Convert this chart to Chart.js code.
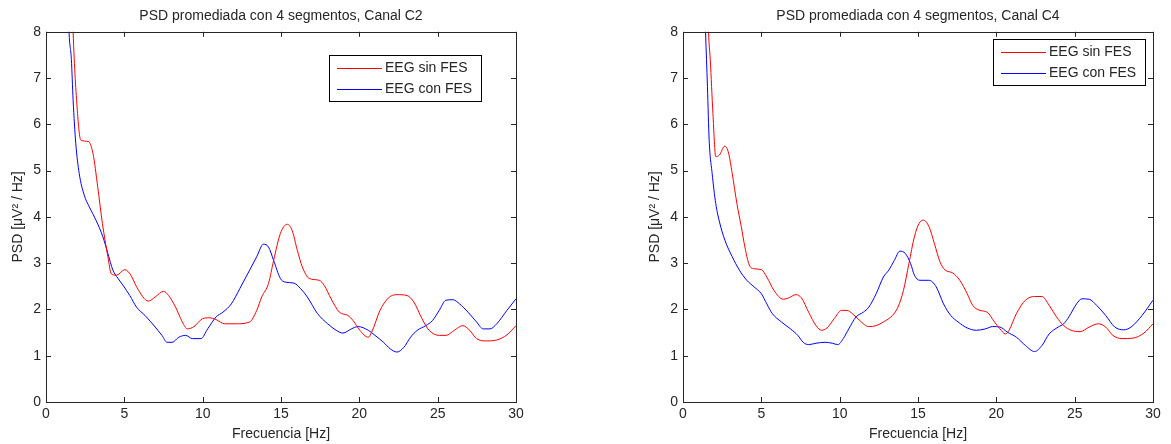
<!DOCTYPE html>
<html>
<head>
<meta charset="utf-8">
<script src="https://cdn.jsdelivr.net/npm/chart.js@4.4.1/dist/chart.umd.min.js"></script>
<style>
  html, body { margin: 0; padding: 0; background: #ffffff; }
  #wrap { position: relative; width: 1171px; height: 444px; overflow: hidden; }
  .box { position: absolute; top: 0; height: 444px; }
  #b1 { left: 0; width: 585px; }
  #b2 { left: 585px; width: 586px; }
</style>
</head>
<body>
<div id="wrap">
  <div class="box" id="b1"><canvas id="c1"></canvas></div>
  <div class="box" id="b2"><canvas id="c2"></canvas></div>
</div>
<script>
// ---- data ----
const xTicks = [0, 5, 10, 15, 20, 25, 30];
const yTicks = [0, 1, 2, 3, 4, 5, 6, 7, 8];
const seriesLabels = ['EEG sin FES', 'EEG con FES'];
const titles = ['PSD promediada con 4 segmentos, Canal C2', 'PSD promediada con 4 segmentos, Canal C4'];

const c2SinFreq = [1.6,1.73,2.0,2.22,2.7,3.0,3.3,3.6,3.95,4.17,4.5,5.03,5.42,5.78,6.54,6.97,7.5,7.83,8.27,8.7,9.02,9.45,9.99,10.42,10.86,11.4,12.15,13.0,13.45,13.77,14.2,14.53,14.96,15.39,15.71,16.04,16.36,16.8,17.44,17.76,18.2,18.73,19.27,19.6,20.03,20.57,20.79,21.32,21.86,22.4,23.05,23.48,24.0,24.45,25.1,25.53,26.07,26.6,27.04,27.48,28.12,28.77,29.42,30];
const c2SinPsd  = [9.6,8.0,6.3,5.66,5.63,5.37,4.65,3.86,3.14,2.77,2.74,2.86,2.74,2.49,2.18,2.27,2.39,2.3,2.05,1.73,1.58,1.63,1.8,1.82,1.78,1.69,1.69,1.73,1.98,2.27,2.56,3.06,3.64,3.84,3.71,3.28,2.92,2.67,2.63,2.52,2.23,1.94,1.87,1.76,1.55,1.4,1.51,1.98,2.25,2.32,2.3,2.16,1.8,1.55,1.44,1.44,1.55,1.65,1.55,1.37,1.32,1.34,1.45,1.65];

const c2ConFreq = [1.35,1.47,1.62,1.73,1.9,2.12,2.44,2.76,3.19,3.63,3.95,4.27,4.6,4.92,5.35,5.78,6.32,6.97,7.4,7.73,8.05,8.48,8.91,9.35,9.89,10.32,10.86,11.29,11.83,12.37,13.0,13.45,13.88,14.2,14.53,14.96,15.28,15.82,16.25,16.68,17.33,17.98,18.52,18.95,19.49,19.92,20.57,21.0,21.54,21.97,22.4,22.84,23.27,23.7,24.24,24.67,25.1,25.53,25.97,26.4,26.94,27.48,27.91,28.34,28.77,29.42,30];
const c2ConPsd  = [9.4,8.0,7.4,6.53,5.59,4.94,4.47,4.22,3.93,3.57,3.21,2.85,2.67,2.52,2.3,2.05,1.87,1.62,1.44,1.29,1.29,1.4,1.44,1.37,1.37,1.58,1.84,1.94,2.12,2.45,2.85,3.14,3.41,3.35,3.06,2.67,2.59,2.57,2.45,2.27,1.91,1.69,1.55,1.49,1.58,1.63,1.55,1.44,1.29,1.15,1.08,1.18,1.4,1.55,1.65,1.76,1.98,2.2,2.21,2.12,1.94,1.73,1.58,1.58,1.69,1.98,2.23];

const c4SinFreq = [1.52,1.63,1.74,1.91,2.09,2.33,2.67,2.91,3.14,3.44,3.72,3.95,4.23,4.53,5.0,5.35,5.81,6.4,6.74,7.21,7.56,8.02,8.49,8.84,9.19,9.65,10.12,10.47,10.81,11.28,11.86,12.33,12.79,13.37,13.72,14.07,14.42,14.77,15.07,15.35,15.7,16.05,16.4,16.74,17.21,17.67,18.14,18.49,18.95,19.42,19.88,20.23,20.58,20.81,21.28,21.86,22.44,22.91,23.37,23.84,24.3,24.77,25.35,25.93,26.51,26.98,27.44,28.02,28.72,29.42,30];
const c4SinPsd  = [9.5,8.0,7.4,6.24,5.3,5.34,5.53,5.38,4.94,4.29,3.79,3.35,2.96,2.88,2.86,2.7,2.41,2.22,2.25,2.32,2.25,1.94,1.65,1.55,1.6,1.8,1.98,1.98,1.91,1.76,1.63,1.65,1.73,1.87,2.05,2.41,2.99,3.57,3.86,3.93,3.79,3.42,3.03,2.85,2.79,2.63,2.34,2.09,1.98,1.94,1.73,1.58,1.47,1.55,1.91,2.2,2.28,2.28,2.09,1.84,1.65,1.55,1.52,1.62,1.69,1.62,1.44,1.37,1.38,1.49,1.69];

const c4ConFreq = [1.33,1.44,1.56,1.67,1.86,2.09,2.33,2.67,3.14,3.6,4.07,4.53,5.0,5.35,5.7,6.28,6.86,7.33,7.67,8.02,8.49,9.07,9.53,9.88,10.23,10.58,11.05,11.51,11.86,12.33,12.79,13.14,13.49,13.84,14.19,14.53,14.77,15.12,15.7,16.16,16.63,17.09,17.56,18.14,18.72,19.3,19.77,20.23,20.7,21.28,21.86,22.44,22.91,23.37,23.95,24.3,24.65,25.12,25.47,25.93,26.4,26.98,27.56,28.14,28.6,29.3,30];
const c4ConPsd  = [9.3,8.0,6.82,5.66,4.94,4.29,3.89,3.5,3.14,2.85,2.63,2.49,2.34,2.12,1.91,1.73,1.58,1.44,1.29,1.24,1.27,1.29,1.27,1.24,1.37,1.58,1.84,1.94,2.05,2.34,2.7,2.85,3.06,3.26,3.21,2.99,2.74,2.63,2.63,2.49,2.12,1.87,1.73,1.6,1.55,1.58,1.63,1.62,1.51,1.4,1.22,1.09,1.22,1.47,1.62,1.69,1.85,2.12,2.23,2.22,2.09,1.87,1.62,1.56,1.62,1.87,2.2];

// ---- helpers ----
const FONT = '"Liberation Sans", Arial, Helvetica, sans-serif';
const FS = 14;
const TXT = '#262626';
function pts(xs, ys) { return xs.map((x, i) => ({ x: x, y: ys[i] })); }

const matlabBox = {
  id: 'matlabBox',
  afterDatasetsDraw(chart, args, opts) {
    const ctx = chart.ctx;
    const a = chart.chartArea;
    const xs = chart.scales.x, ys = chart.scales.y;
    const tl = 5;
    ctx.save();
    ctx.strokeStyle = '#262626';
    ctx.lineWidth = 1;
    ctx.beginPath();
    xs.ticks.forEach(t => {
      const px = Math.round(xs.getPixelForValue(t.value)) + 0.5;
      ctx.moveTo(px, a.bottom); ctx.lineTo(px, a.bottom - tl);
      ctx.moveTo(px, a.top); ctx.lineTo(px, a.top + tl);
    });
    ys.ticks.forEach(t => {
      const py = Math.round(ys.getPixelForValue(t.value)) + 0.5;
      ctx.moveTo(a.left, py); ctx.lineTo(a.left + tl, py);
      ctx.moveTo(a.right, py); ctx.lineTo(a.right - tl, py);
    });
    ctx.stroke();
    ctx.strokeRect(Math.round(a.left) + 0.5, Math.round(a.top) + 0.5, Math.round(a.right - a.left), Math.round(a.bottom - a.top));
    // legend
    const L = opts.box;
    ctx.fillStyle = '#ffffff';
    ctx.fillRect(L.x, L.y, L.w, L.h);
    ctx.strokeStyle = '#000000';
    ctx.strokeRect(L.x + 0.5, L.y + 0.5, L.w, L.h);
    ctx.font = FS + 'px ' + FONT;
    ctx.textBaseline = 'middle';
    ctx.textAlign = 'left';
    chart.data.datasets.forEach((ds, i) => {
      const yy = L.y + 13 + i * 21 + 0.5;
      ctx.strokeStyle = ds.borderColor;
      ctx.beginPath();
      ctx.moveTo(L.x + 8, yy); ctx.lineTo(L.x + 53, yy);
      ctx.stroke();
      ctx.fillStyle = TXT;
      ctx.fillText(ds.label, L.x + 56, yy);
    });
    ctx.restore();
  }
};

function makeChart(id, title, sin, con, padL, padR, legendBox) {
  return new Chart(document.getElementById(id), {
    type: 'line',
    data: {
      datasets: [
        { label: seriesLabels[0], data: sin, borderColor: '#ff0000', borderWidth: 1, pointRadius: 0, cubicInterpolationMode: 'monotone', fill: false },
        { label: seriesLabels[1], data: con, borderColor: '#0000ff', borderWidth: 1, pointRadius: 0, cubicInterpolationMode: 'monotone', fill: false }
      ]
    },
    options: {
      responsive: true,
      maintainAspectRatio: false,
      animation: false,
      events: [],
      layout: { padding: { left: padL, right: padR, top: 0, bottom: 0 } },
      plugins: {
        legend: { display: false },
        tooltip: { enabled: false },
        title: {
          display: true, text: title, fullSize: false, color: TXT,
          font: { family: FONT, size: FS, weight: 'normal' },
          padding: { top: 8, bottom: 7 }
        },
        matlabBox: { box: legendBox }
      },
      scales: {
        x: {
          type: 'linear', min: 0, max: 30,
          afterBuildTicks: s => { s.ticks = xTicks.map(v => ({ value: v })); },
          afterFit: s => { s.height = 42; },
          grid: { display: false, drawTicks: false },
          border: { display: false },
          ticks: { color: TXT, padding: 4, font: { family: FONT, size: FS }, maxRotation: 0 },
          title: { display: true, text: 'Frecuencia [Hz]', color: TXT, font: { family: FONT, size: FS }, padding: { top: 0, bottom: 1 } }
        },
        y: {
          type: 'linear', min: 0, max: 8,
          afterBuildTicks: s => { s.ticks = yTicks.map(v => ({ value: v })); },
          afterFit: s => { s.width = 46; },
          grid: { display: false, drawTicks: false },
          border: { display: false },
          ticks: { color: TXT, padding: 5, font: { family: FONT, size: FS } },
          title: { display: true, text: 'PSD [\u03bcV\u00b2 / Hz]', color: TXT, font: { family: FONT, size: FS }, padding: { top: 10, bottom: 0 } }
        }
      }
    },
    plugins: [matlabBox]
  });
}

makeChart('c1', titles[0], pts(c2SinFreq, c2SinPsd), pts(c2ConFreq, c2ConPsd), 0, 69, { x: 329, y: 55, w: 152, h: 46 });
makeChart('c2', titles[1], pts(c4SinFreq, c4SinPsd), pts(c4ConFreq, c4ConPsd), 52, 18, { x: 408, y: 39, w: 152, h: 46 });
</script>
</body>
</html>
